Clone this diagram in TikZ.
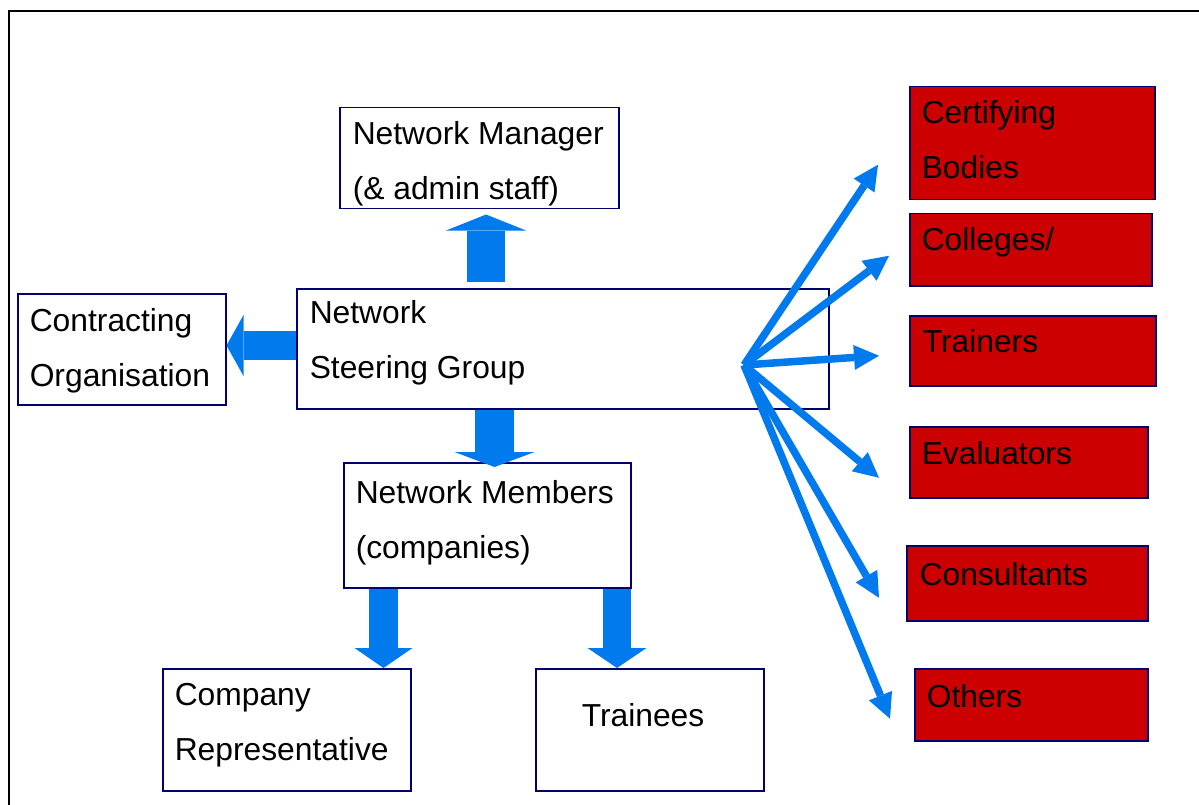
\documentclass[tikz,border=0pt]{standalone}
\usepackage{fontspec}
\setmainfont{Liberation Sans}
\usetikzlibrary{arrows.meta,calc}
\definecolor{arrowblue}{RGB}{0,122,236}
\definecolor{boxred}{RGB}{204,0,0}
\definecolor{boxline}{RGB}{0,0,110}
% width, height, left indent, first baseline, text
\newcommand{\boxtext}[5]{\parbox[c][#2pt][t]{#1pt}{\leftskip=#3pt\rule{0pt}{#4pt}#5}}
\begin{document}
\begin{tikzpicture}[x=1pt,y=-1pt,
  box/.style={draw=boxline,line width=1.5pt,inner sep=0pt,anchor=north west,font=\fontsize{31.8}{55}\selectfont},
  redbox/.style={box,fill=boxred},
  blockarrow/.style={arrowblue},
  thinarrow/.style={arrowblue,line width=7.5pt,-{Triangle[length=25pt,width=25pt,line width=0pt]}}]
\useasboundingbox (0,0) rectangle (1199,805);
\draw[line width=2pt] (9,805) -- (9,11) -- (1199,11);
% boxes
\node[box] (nm) at (339,107) {\boxtext{279}{101}{13}{37}{Network Manager\\(\& admin staff)}};
\node[box] (corg) at (17,293) {\boxtext{208}{111}{12}{38}{Contracting\\Organisation}};
\node[box] (nsg) at (296,288) {\boxtext{532}{120}{13}{35}{Network\\Steering Group}};
\node[box] (mem) at (343,462) {\boxtext{287}{125}{12}{41}{Network Members\\(companies)}};
\node[box] (crep) at (162,668) {\boxtext{248}{122}{12}{37}{Company\\Representative}};
\node[box] (trn) at (535,668) {\boxtext{228}{122}{46}{58}{Trainees}};
\node[redbox] (cert) at (909,86) {\boxtext{245}{113}{12}{37}{Certifying\\Bodies}};
\node[redbox] (coll) at (909,213) {\boxtext{242}{72}{12}{37}{Colleges/}};
\node[redbox] (trai) at (909,315) {\boxtext{246}{70}{13}{37}{Trainers}};
\node[redbox] (eval) at (909,426) {\boxtext{238}{71}{12}{38}{Evaluators}};
\node[redbox] (cons) at (906,545) {\boxtext{241}{75}{13}{40}{Consultants}};
\node[redbox] (oth) at (914,668) {\boxtext{233}{72}{12}{39}{Others}};
% block arrows
\draw[blockarrow,line width=38pt,-{Triangle[length=16pt,width=80pt,line width=0pt]}]
  ($(nsg.north west)+(190,-6)$) -- ($(nm.south west)+(147,5)$);
\draw[blockarrow,line width=29pt,-{Triangle[length=17pt,width=61pt,line width=0pt]}]
  ($(nsg.north west)+(0,57.5)$) -- ($(corg.north east)+(0,52.5)$);
\draw[blockarrow,line width=39pt,-{Triangle[length=15pt,width=80pt,line width=0pt]}]
  ($(nsg.south west)+(198.5,0)$) -- ($(mem.north west)+(151.5,5)$);
\draw[blockarrow,line width=29pt,-{Triangle[length=20pt,width=58pt,line width=0pt]}]
  ($(mem.south west)+(40.5,0)$) -- ($(crep.north west)+(221.5,0)$);
\draw[blockarrow,line width=28pt,-{Triangle[length=20pt,width=59pt,line width=0pt]}]
  ($(mem.south west)+(274,0)$) -- ($(trn.north west)+(82,0)$);
% fan of arrows
\coordinate (hub) at ($(nsg.north west)+(448,77)$);
\draw[thinarrow] (hub) -- ($(cert.west)+(-31,21.5)$);
\draw[thinarrow] (hub) -- ($(coll.west)+(-20,6)$);
\draw[thinarrow] (hub) -- ($(trai.west)+(-30,5)$);
\draw[thinarrow] (hub) -- ($(eval.west)+(-30,15.5)$);
\draw[thinarrow] (hub) -- ($(cons.west)+(-27,14.5)$);
\draw[thinarrow] (hub) -- ($(oth.west)+(-24,14)$);
\end{tikzpicture}
\end{document}
